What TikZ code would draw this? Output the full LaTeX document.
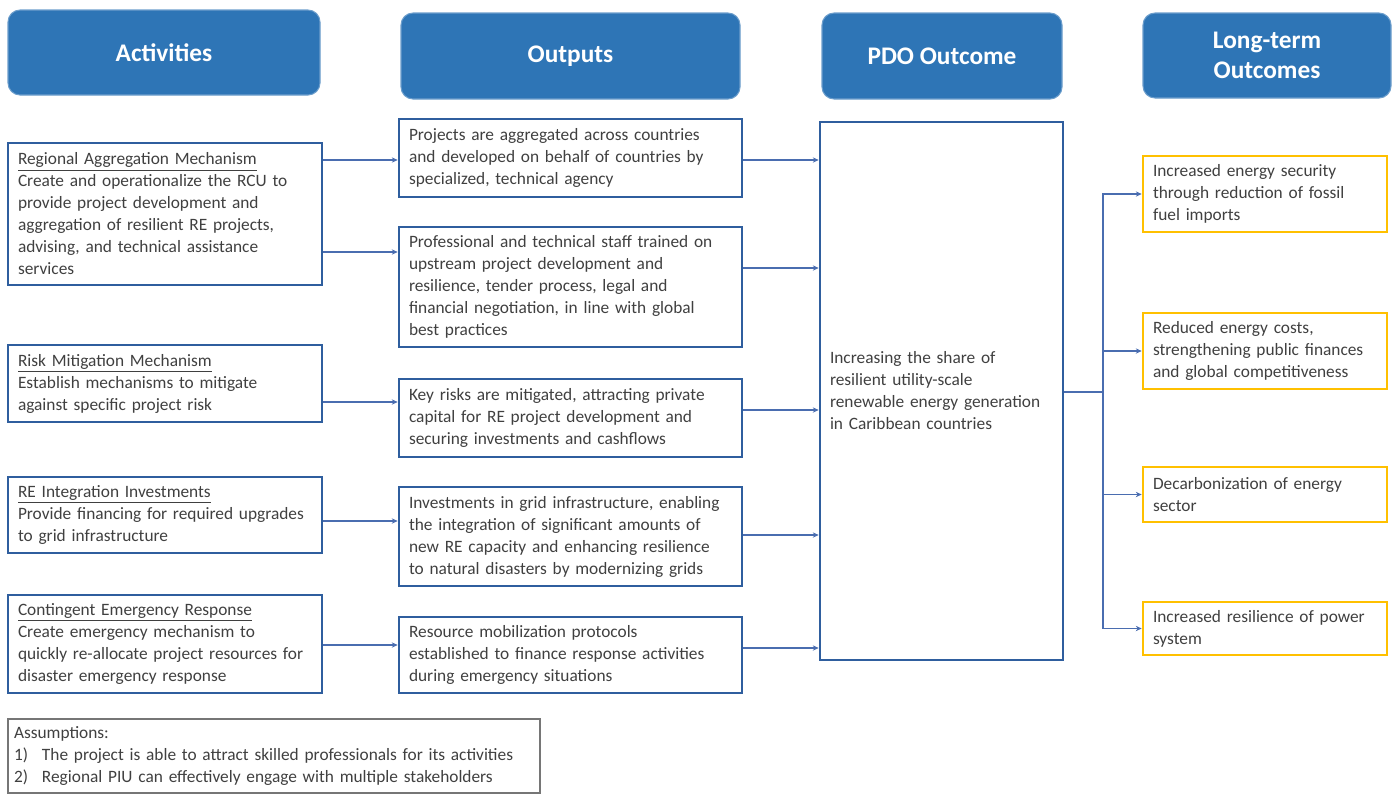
\documentclass[tikz,border=0pt]{standalone}
\usepackage{fontspec}
\setmainfont{Carlito}
\usetikzlibrary{arrows.meta}
\hyphenpenalty=10000
\exhyphenpenalty=10000
\definecolor{hdr}{HTML}{2E75B6}
\definecolor{bx}{HTML}{2F5E9E}
\definecolor{ln}{HTML}{4A6DB0}
\definecolor{gold}{HTML}{FFC000}
\definecolor{txt}{HTML}{404040}
\definecolor{gry}{HTML}{767676}
\begin{document}
\begin{tikzpicture}[x=0.75pt,y=-0.75pt,
  hdrbox/.style={rounded corners=9pt, fill=hdr, draw=hdr!70!white, line width=0.8pt, text=white,
    font=\fontsize{19}{23}\selectfont\bfseries, align=center, inner sep=0pt},
  tbox/.style={draw=bx, line width=1.9pt, fill=white, text=txt,
    font=\fontsize{13}{16.5}\selectfont, align=left, inner xsep=7.5pt, inner ysep=0pt},
  abox/.style={tbox, minimum width=235.5pt, text width=220.5pt},
  obox/.style={tbox, minimum width=257.25pt, text width=242.25pt},
  pbox/.style={tbox, minimum width=182.25pt, text width=167.25pt},
  lbox/.style={tbox, draw=gold, minimum width=183pt, text width=168pt},
  asbox/.style={tbox, draw=gry, minimum width=399pt, text width=390pt, inner xsep=4.5pt},
  arr/.style={draw=ln, line width=1.1pt, -{Stealth[length=4.5pt,width=4pt]}},
  conn/.style={draw=ln, line width=1.1pt}
]
\useasboundingbox (0,0) rectangle (1398,794);

% headers
\node[hdrbox, minimum width=234pt, minimum height=63.75pt] (H1) at (164,52.5) {Activities};
\node[hdrbox, minimum width=254.25pt, minimum height=64.5pt] (H2) at (570.5,56) {Outputs};
\node[hdrbox, minimum width=180pt, minimum height=64.5pt] (H3) at (942,56) {PDO Outcome};
\node[hdrbox, minimum width=186pt, minimum height=63.75pt] (H4) at (1267,55.5) {Long-term\\Outcomes};

% activities
\node[abox, minimum height=106.5pt] (A1) at (165,214) {\underline{Regional Aggregation Mechanism}\\Create and operationalize the RCU to\\provide project development and\\aggregation of resilient RE projects,\\advising, and technical assistance\\services};
\node[abox, minimum height=57.75pt] (A2) at (165,383.5) {\underline{Risk Mitigation Mechanism}\\Establish mechanisms to mitigate\\against specific project risk};
\node[abox, minimum height=57pt] (A3) at (165,515) {\underline{RE Integration Investments}\\Provide financing for required upgrades\\to grid infrastructure};
\node[abox, minimum height=73.5pt] (A4) at (165,644) {\underline{Contingent Emergency Response}\\Create emergency mechanism to\\quickly re-allocate project resources for\\disaster emergency response};

% outputs
\node[obox, minimum height=58.5pt] (O1) at (570.5,158) {Projects are aggregated across countries\\and developed on behalf of countries by\\specialized, technical agency};
\node[obox, minimum height=90pt] (O2) at (570.5,287) {Professional and technical staff trained on\\upstream project development and\\resilience, tender process, legal and\\financial negotiation, in line with global\\best practices};
\node[obox, minimum height=58.5pt] (O3) at (570.5,418) {Key risks are mitigated, attracting private\\capital for RE project development and\\securing investments and cashflows};
\node[obox, minimum height=74.25pt] (O4) at (570.5,536.5) {Investments in grid infrastructure, enabling\\the integration of significant amounts of\\new RE capacity and enhancing resilience\\to natural disasters by modernizing grids};
\node[obox, minimum height=57pt] (O5) at (570.5,655) {Resource mobilization protocols\\established to finance response activities\\during emergency situations};

% PDO
\node[pbox, minimum height=403.5pt] (P) at (941.5,391) {Increasing the share of\\resilient utility-scale\\renewable energy generation\\in Caribbean countries};

% long-term
\node[lbox, minimum height=57pt] (L1) at (1265,194) {Increased energy security\\through reduction of fossil\\fuel imports};
\node[lbox, minimum height=57pt] (L2) at (1265,351) {Reduced energy costs,\\strengthening public finances\\and global competitiveness};
\node[lbox, minimum height=41.25pt] (L3) at (1265,494.5) {Decarbonization of energy\\sector};
\node[lbox, minimum height=39.75pt] (L4) at (1265,628.5) {Increased resilience of power\\system};

% assumptions
\node[asbox, minimum height=55.5pt] (AS) at (274,756) {Assumptions:\\\makebox[21pt][l]{1)}The project is able to attract skilled professionals for its activities\\\makebox[21pt][l]{2)}Regional PIU can effectively engage with multiple stakeholders};

% connectors activities -> outputs
\draw[arr] (A1.east |- 0,160) -- (O1.west |- 0,160);
\draw[arr] (A1.east |- 0,252) -- (O2.west |- 0,252);
\draw[arr] (A2.east |- 0,402) -- (O3.west |- 0,402);
\draw[arr] (A3.east |- 0,521) -- (O4.west |- 0,521);
\draw[arr] (A4.east |- 0,645) -- (O5.west |- 0,645);

% outputs -> PDO
\draw[arr] (O1.east |- 0,160) -- (P.west |- 0,160);
\draw[arr] (O2.east |- 0,268) -- (P.west |- 0,268);
\draw[arr] (O3.east |- 0,410) -- (P.west |- 0,410);
\draw[arr] (O4.east |- 0,535) -- (P.west |- 0,535);
\draw[arr] (O5.east |- 0,648) -- (P.west |- 0,648);

% PDO -> long-term
\coordinate (br) at (1103,392);
\draw[conn] (P.east |- br) -- (br);
\draw[arr] (br) |- (L1.west);
\draw[arr] (br) |- (L2.west);
\draw[arr] (br) |- (L3.west);
\draw[arr] (br) |- (L4.west);
\end{tikzpicture}
\end{document}
